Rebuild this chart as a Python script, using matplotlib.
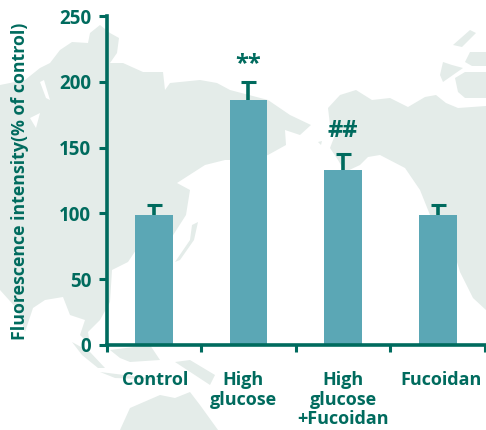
import matplotlib
matplotlib.use("Agg")
import matplotlib.pyplot as plt
from matplotlib.patches import Polygon

categories = ["Control", "High\nglucose", "High\nglucose\n+Fucoidan", "Fucoidan"]
values = [99, 186, 133, 99]
errors = [7.5, 14, 12, 7.5]
marks = ["", "**", "##", ""]
y_ticks = [0, 50, 100, 150, 200, 250]

GREEN = "#006B5E"
BAR = "#5BA7B5"
MAP = "#E4ECE9"

# rough background map, in image pixels
land = [
    # asia
    [(0, 85), (25, 80), (40, 68), (50, 63), (60, 50), (72, 42), (88, 43), (90, 33), (100, 25), (110, 33), (119, 38),
     (117, 53), (110, 63), (123, 63), (143, 72), (163, 72), (165, 90), (170, 83), (200, 80), (217, 83),
     (230, 90), (268, 100), (290, 115), (311, 125), (300, 135), (285, 130), (286, 145), (268, 155), (245, 160),
     (225, 160), (205, 165), (177, 183), (190, 190), (186, 215), (170, 240), (150, 248), (136, 250), (128, 262),
     (112, 270), (110, 302), (100, 320), (88, 332), (90, 345), (80, 335), (85, 320), (70, 315), (63, 297), (45, 300),
     (33, 308), (25, 332), (18, 310), (0, 290)],
    # japan
    [(175, 262), (190, 240), (192, 225), (198, 222), (194, 240), (180, 260)],
    # alaska and canada
    [(328, 108), (340, 95), (356, 90), (372, 100), (390, 98), (408, 107), (425, 97), (436, 95), (446, 103), (458, 108),
     (486, 106), (486, 310), (473, 298), (460, 272), (457, 262), (430, 215), (420, 190), (405, 168), (380, 155),
     (368, 157), (360, 165), (345, 172), (338, 160), (330, 148), (335, 135), (330, 125)],
    # arctic islands
    [(440, 75), (443, 62), (452, 65), (463, 68), (453, 75), (443, 82)],
    [(455, 78), (465, 72), (486, 72), (486, 98), (465, 98), (458, 92)],
    [(465, 62), (470, 52), (486, 52), (486, 66), (472, 66)],
    [(453, 45), (470, 30), (476, 33), (462, 47)],
    [(318, 142), (322, 141), (321, 145)],
    # islands south of asia
    [(72, 342), (90, 352), (105, 368), (98, 368), (82, 355)],
    [(110, 350), (150, 345), (160, 360), (130, 362), (120, 358)],
    [(175, 362), (210, 385), (215, 375), (190, 360)],
    [(100, 372), (165, 380), (115, 378)],
    # australia
    [(120, 430), (130, 408), (160, 395), (175, 398), (190, 392), (200, 405), (218, 430)],
]
# inlets cut back out of the land
inlets = [
    [(40, 82), (46, 98), (50, 100), (44, 80)],
    [(30, 118), (40, 113), (36, 128)],
]

fig = plt.figure(figsize=(4.86, 4.30), dpi=100)
plt.rcParams["font.family"] = ["Open Sans", "DejaVu Sans"]

bg = fig.add_axes([0, 0, 1, 1], zorder=0)
bg.set_xlim(0, 486)
bg.set_ylim(430, 0)
bg.axis("off")
for shape in land:
    bg.add_patch(Polygon(shape, closed=True, facecolor=MAP, edgecolor="none"))
for shape in inlets:
    bg.add_patch(Polygon(shape, closed=True, facecolor="white", edgecolor="none"))

ax = fig.add_axes([106.5 / 486, 85 / 430, 378.5 / 486, 329 / 430], zorder=1)
ax.patch.set_alpha(0)
x = list(range(len(categories)))
tops = [v + e for v, e in zip(values, errors)]
ax.bar(x, values, width=0.4, color=BAR, zorder=2)
ax.vlines(x, values, tops, color=GREEN, linewidth=2.6, zorder=1.5)
ax.plot(x, tops, linestyle="none", marker="_", color=GREEN, markersize=10.8, markeredgewidth=2.2, zorder=1.5)

ax.set_xlim(-0.5, 3.5)
ax.set_ylim(0, 250)
ax.set_yticks(y_ticks)
ax.set_xticks([-0.5, 0.5, 1.5, 2.5, 3.5])
ax.set_xticklabels([])
ax.spines["top"].set_visible(False)
ax.spines["right"].set_visible(False)
ax.spines["left"].set_linewidth(2.6)
ax.spines["bottom"].set_linewidth(2.6)
ax.spines["left"].set_color(GREEN)
ax.spines["bottom"].set_color(GREEN)
ax.tick_params(axis="y", length=6, width=2.2, color=GREEN, labelcolor=GREEN, pad=5, labelsize=13.5)
ax.tick_params(axis="x", length=5, width=2.2, color=GREEN)
for t in ax.get_yticklabels():
    t.set_fontweight("bold")

# group labels sit a little off the bar centres in the original
label_shift = [1, -5, 0, 3]
for i, name in enumerate(categories):
    ax.annotate(name, xy=(i, 0), xycoords=("data", "axes fraction"),
                xytext=(label_shift[i] * 0.72, -19), textcoords="offset points",
                ha="center", va="top", color=GREEN, fontsize=13, fontweight="bold", linespacing=1.08)

for i, m in enumerate(marks):
    if m:
        ax.annotate(m, xy=(i, tops[i]), xytext=(0, 8 if m == "##" else 4),
                    textcoords="offset points", ha="center", va="bottom", color=GREEN,
                    fontsize=17, fontweight="bold")

fig.text(20 / 486, 1 - 181 / 430, "Fluorescence intensity(% of control)", rotation=90, ha="center",
         va="center", color=GREEN, fontsize=12.8, fontweight="bold")

fig.savefig("out.png", dpi=100)
